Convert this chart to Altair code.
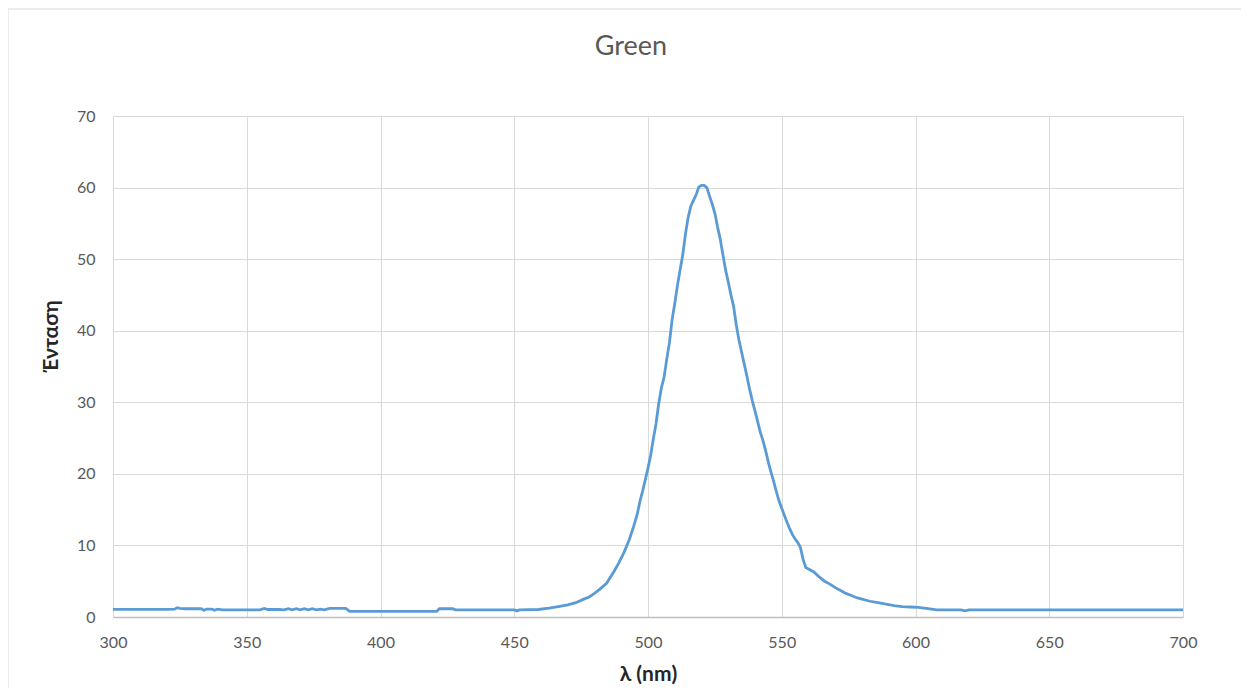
import altair as alt
import pandas as pd

TITLE = "Green"
X_TITLE = "λ (nm)"
Y_TITLE = "Ένταση"

wavelength = [
    300, 310, 320, 323, 324, 325, 327, 333, 334, 335, 337, 338, 339, 341, 350, 355,
    356.5, 358, 362, 364, 365.5, 367, 368.5, 370, 371.5, 373, 374.5, 376, 377.5, 379,
    381, 387, 388.5, 389, 421, 422, 427, 428, 450, 451, 452, 459, 463, 467, 470, 473,
    476, 478, 480, 482, 484.5, 486, 487.5, 489, 491, 493, 494.5, 496, 497, 498, 499,
    500, 501, 502, 503, 504, 505, 506, 507, 508, 509, 510, 511, 512, 513, 514, 515,
    516, 517, 518, 519, 520, 521, 522, 523, 524, 525, 526, 527, 528, 529, 530, 531,
    532, 533, 534, 535, 536, 537, 538, 539, 540, 541, 542, 543, 544, 545, 546, 547,
    548, 549, 550, 551, 552, 553, 554, 555, 556, 557, 558, 559, 560, 562, 564, 566,
    568, 570, 572, 574, 576, 578, 580, 583, 586, 589, 592, 595, 598, 601, 604, 606,
    608, 617, 618.5, 620, 700,
]
intensity = [
    1.07, 1.07, 1.07, 1.1, 1.3, 1.2, 1.15, 1.15, 0.95, 1.1, 1.1, 0.95, 1.1, 1.0, 1.0, 1.0,
    1.2, 1.05, 1.05, 1.0, 1.15, 1.0, 1.15, 1.0, 1.15, 1.0, 1.15, 1.0, 1.1, 1.0,
    1.2, 1.2, 0.8, 0.78, 0.78, 1.15, 1.15, 1.0, 1.0, 0.85, 1.0, 1.05, 1.25, 1.5, 1.7, 2.0,
    2.5, 2.8, 3.3, 3.9, 4.7, 5.6, 6.5, 7.5, 9.0, 10.8, 12.5, 14.4, 16.2, 17.6, 19.2,
    20.8, 22.6, 24.9, 27.0, 29.8, 32.0, 33.5, 36.0, 38.3, 41.5, 43.8, 46.3, 48.5, 50.6, 53.5, 55.8,
    57.4, 58.2, 59.0, 60.1, 60.3, 60.3, 60.0, 58.8, 57.7, 56.4, 54.5, 52.8, 50.6, 48.5, 46.8, 45.0,
    43.4, 40.8, 38.7, 37.0, 35.3, 33.6, 31.8, 30.2, 28.8, 27.3, 25.8, 24.6, 23.2, 21.6, 20.2, 18.9,
    17.5, 16.2, 15.2, 14.2, 13.2, 12.3, 11.5, 10.9, 10.4, 9.7, 8.0, 6.9, 6.7, 6.3, 5.6, 5.0,
    4.6, 4.1, 3.7, 3.3, 3.0, 2.7, 2.5, 2.2, 2.0, 1.8, 1.6, 1.45, 1.4, 1.35, 1.2, 1.1,
    1.0, 1.0, 0.85, 1.0, 1.0,
]

x_ticks = [300, 350, 400, 450, 500, 550, 600, 650, 700]
y_ticks = [0, 10, 20, 30, 40, 50, 60, 70]

df = pd.DataFrame({"wl": wavelength, "val": intensity})

FONT = "Lato"
LABEL_COLOR = "#595959"
TITLE_COLOR = "#262626"

frame = alt.Chart(pd.DataFrame({"k": [0]})).mark_rect(
    filled=False, stroke="#d9d9d9", strokeWidth=1, clip=False
).encode(
    x=alt.value(-105), x2=alt.value(1200),
    y=alt.value(-107), y2=alt.value(700),
)

title = alt.Chart(pd.DataFrame({"t": [TITLE]})).mark_text(
    font=FONT, fontSize=27, color=LABEL_COLOR, align="center", baseline="alphabetic"
).encode(text="t:N", x=alt.value(518), y=alt.value(-61))

line = alt.Chart(df).mark_line(color="#5b9bd5", strokeWidth=2.8).encode(
    x=alt.X(
        "wl:Q",
        scale=alt.Scale(domain=[300, 700], nice=False, zero=False),
        axis=alt.Axis(
            values=x_ticks, title=X_TITLE, grid=True, gridColor="#d9d9d9",
            ticks=False, domain=True, domainColor="#bfbfbf", domainWidth=1.5,
            labelFont=FONT, labelFontSize=16, labelColor=LABEL_COLOR, labelPadding=17,
            labelFlush=False,
            titleFont=FONT, titleFontSize=21, titleFontWeight="bold", titleColor=TITLE_COLOR,
            titleBaseline="alphabetic", titleY=63, titleX=535,
        ),
    ),
    y=alt.Y(
        "val:Q",
        scale=alt.Scale(domain=[0, 70], nice=False),
        axis=alt.Axis(
            values=y_ticks, title=Y_TITLE, grid=True, gridColor="#d9d9d9",
            ticks=False, domain=False,
            labelFont=FONT, labelFontSize=16, labelColor=LABEL_COLOR, labelPadding=18,
            titleFont=FONT, titleFontSize=21, titleFontWeight="bold", titleColor=TITLE_COLOR,
            titleAngle=270, titleBaseline="alphabetic", titleX=-56, titleY=220,
            titleAlign="center",
        ),
    ),
)

chart = alt.layer(frame, title, line).properties(
    width=1070,
    height=501,
    autosize=alt.AutoSizeParams(type="none"),
    padding={"left": 105, "top": 108, "right": 58, "bottom": 71},
).configure_view(stroke=None)

chart.save("out.html", embed_options={"renderer": "svg", "actions": False})
